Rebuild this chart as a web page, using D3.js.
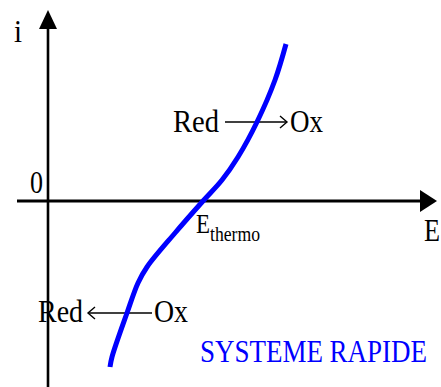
<!DOCTYPE html>
<html lang="fr">
<head>
  <meta charset="UTF-8">
  <title>Systeme rapide</title>
  <script src="https://cdn.jsdelivr.net/npm/d3@7"></script>
  <style>
    body { margin: 0; background: #fff; }
  </style>
</head>
<body>
  <svg id="chart" width="441" height="387"></svg>
  <script>
    // courbe i = f(E) (unités arbitraires)
    const potentiel = [6.2, 6.4, 7.9, 9.0, 9.9, 12.7, 15.5, 17.4, 19.0, 20.9, 22.7, 23.8];
    const courant   = [-16.6, -15.6, -11.2, -8.2, -6.6, -3.2, 0, 2.1, 4.4, 7.9, 12.1, 15.7];

    // étiquettes : texte, position (E, i), largeur en px, taille
    const labels = [
      { t: 'i', e: -3.4, i: 15.9, w: 8, size: 27 },
      { t: '0', e: -1.8, i: 0.8, w: 13, size: 27 },
      { t: 'E', e: 37.6, i: -4.0, w: 16, size: 27 },
      { t: 'Red', e: 12.5, i: 6.9, w: 46, size: 27 },
      { t: 'Ox', e: 24.2, i: 6.9, w: 33, size: 27 },
      { t: 'Red', e: -1.0, i: -12.1, w: 45, size: 27 },
      { t: 'Ox', e: 10.6, i: -12.1, w: 34, size: 27 }
    ];
    const titre = 'SYSTEME RAPIDE';

    const svg = d3.select('#chart');

    const x = d3.scaleLinear().domain([-3.1, 38.9]).range([17, 437]);
    const y = d3.scaleLinear().domain([-18.6, 19.1]).range([387, 10]);

    const data = potentiel.map((e, k) => ({ e: e, i: courant[k] }));

    // axes avec flèches
    svg.append('line')
      .attr('x1', x(-3.1)).attr('x2', x(37.2))
      .attr('y1', y(0)).attr('y2', y(0))
      .attr('stroke', '#000').attr('stroke-width', 3);
    svg.append('path')
      .attr('d', `M${x(38.9)},${y(0)} L${x(37.2)},${y(0) - 11} L${x(37.2)},${y(0) + 11} Z`)
      .attr('fill', '#000');

    svg.append('line')
      .attr('x1', x(0)).attr('x2', x(0))
      .attr('y1', y(-18.6)).attr('y2', y(17.3))
      .attr('stroke', '#000').attr('stroke-width', 2.6);
    svg.append('path')
      .attr('d', `M${x(0)},${y(19.1)} L${x(0) - 9},${y(17.2)} L${x(0) + 9},${y(17.2)} Z`)
      .attr('fill', '#000');

    // flèches Red -> Ox et Red <- Ox
    function fleche(e1, e2, iv) {
      const dir = e2 > e1 ? 1 : -1;
      svg.append('line')
        .attr('x1', x(e1)).attr('x2', x(e2))
        .attr('y1', y(iv)).attr('y2', y(iv))
        .attr('stroke', '#000').attr('stroke-width', 1.4);
      svg.append('path')
        .attr('d', `M${x(e2) - dir * 7},${y(iv) - 6} L${x(e2)},${y(iv)} L${x(e2) - dir * 7},${y(iv) + 6}`)
        .attr('fill', 'none').attr('stroke', '#000').attr('stroke-width', 1.4);
    }
    fleche(17.7, 23.9, 7.9);
    fleche(10.4, 4.0, -11.2);

    // courbe
    const line = d3.line()
      .x(d => x(d.e))
      .y(d => y(d.i))
      .curve(d3.curveCatmullRom);

    svg.append('path')
      .datum(data)
      .attr('d', line)
      .attr('fill', 'none')
      .attr('stroke', '#0000ff')
      .attr('stroke-width', 5);

    // textes (étirés verticalement comme sur l'original)
    function texte(t, px, py, w, size, color) {
      svg.append('g')
        .attr('transform', `translate(${px},${py}) scale(1,1.18)`)
        .append('text')
        .attr('x', 0).attr('y', 0)
        .attr('font-family', "'Liberation Serif', 'Times New Roman', 'DejaVu Serif', serif")
        .attr('font-size', size)
        .attr('fill', color || '#000')
        .attr('textLength', w)
        .attr('lengthAdjust', 'spacingAndGlyphs')
        .text(t);
    }
    labels.forEach(l => texte(l.t, x(l.e), y(l.i), l.w, l.size));

    // E thermo
    texte('E', x(14.8), y(-3.2), 14, 23);
    texte('thermo', x(16.2), y(-4.0), 50, 17.5);

    texte(titre, x(15.2), y(-16.1), 227, 27, '#0000ff');
  </script>
</body>
</html>
